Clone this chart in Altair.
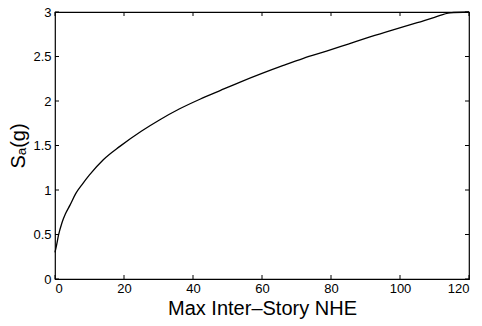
import altair as alt
import pandas as pd

# Curve
nhe = [0, 0.5, 1, 2, 3, 4.35, 6, 8, 10, 14, 18.8, 25, 30.4, 36, 42, 48, 53.5,
       60, 66.2, 72, 78.7, 85, 91.3, 98, 105, 110, 114.5, 120]
sa = [0.30, 0.39, 0.49, 0.63, 0.73, 0.83, 0.96, 1.07, 1.17, 1.34, 1.49, 1.66, 1.79,
      1.91, 2.02, 2.12, 2.21, 2.31, 2.40, 2.48, 2.56, 2.64, 2.72, 2.80, 2.88,
      2.94, 2.99, 3.00]

x_ticks = [0, 20, 40, 60, 80, 100, 120]
y_ticks = [0, 0.5, 1, 1.5, 2, 2.5, 3]

W, H = 414, 267
FONT = "Liberation Sans"

df = pd.DataFrame({"nhe": nhe, "sa": sa})
xt = pd.DataFrame({"t": x_ticks})
yt = pd.DataFrame({"t": y_ticks})

xscale = alt.Scale(domain=[0, 120], nice=False, zero=False)
yscale = alt.Scale(domain=[0, 3], nice=False, zero=False)

line = alt.Chart(df).mark_line(color="black", strokeWidth=1.3, interpolate="monotone").encode(
    x=alt.X("nhe:Q", scale=xscale,
            axis=alt.Axis(values=x_ticks, title="Max Inter–Story NHE", ticks=False, tickSize=0,
                          grid=False, domain=False, labelPadding=3, labelFontSize=13,
                          titleFontSize=20, titleFontWeight="normal", titleX=W / 2, titleY=35,
                          titleBaseline="alphabetic", titleAlign="center")),
    y=alt.Y("sa:Q", scale=yscale,
            axis=alt.Axis(values=y_ticks, title="Sₐ(g)", ticks=False, tickSize=0, grid=False,
                          domain=False, labelPadding=4, labelFontSize=13, titleFontSize=20,
                          titleFontWeight="normal", titleX=-37, titleY=H / 2, titleAngle=270,
                          titleBaseline="middle", titleAlign="center", format="~g")),
)

tb = alt.Chart(xt).mark_rule(color="black", strokeWidth=1).encode(
    x=alt.X("t:Q", scale=xscale), y=alt.value(H), y2=alt.value(H - 4))
tt = alt.Chart(xt).mark_rule(color="black", strokeWidth=1).encode(
    x=alt.X("t:Q", scale=xscale), y=alt.value(0), y2=alt.value(4))
tl = alt.Chart(yt).mark_rule(color="black", strokeWidth=1).encode(
    y=alt.Y("t:Q", scale=yscale), x=alt.value(0), x2=alt.value(4))
tr = alt.Chart(yt).mark_rule(color="black", strokeWidth=1).encode(
    y=alt.Y("t:Q", scale=yscale), x=alt.value(W), x2=alt.value(W - 4))

chart = alt.layer(line, tb, tt, tl, tr).properties(
    width=W, height=H,
    autosize=alt.AutoSizeParams(type="none"),
    padding={"left": 55, "top": 12, "right": 13, "bottom": 47},
    background="white",
).configure_view(stroke="black", strokeWidth=1.2).configure_axis(
    labelFont=FONT, titleFont=FONT, labelColor="black", titleColor="black"
)

chart.save("out.html", embed_options={"renderer": "svg", "actions": False})
